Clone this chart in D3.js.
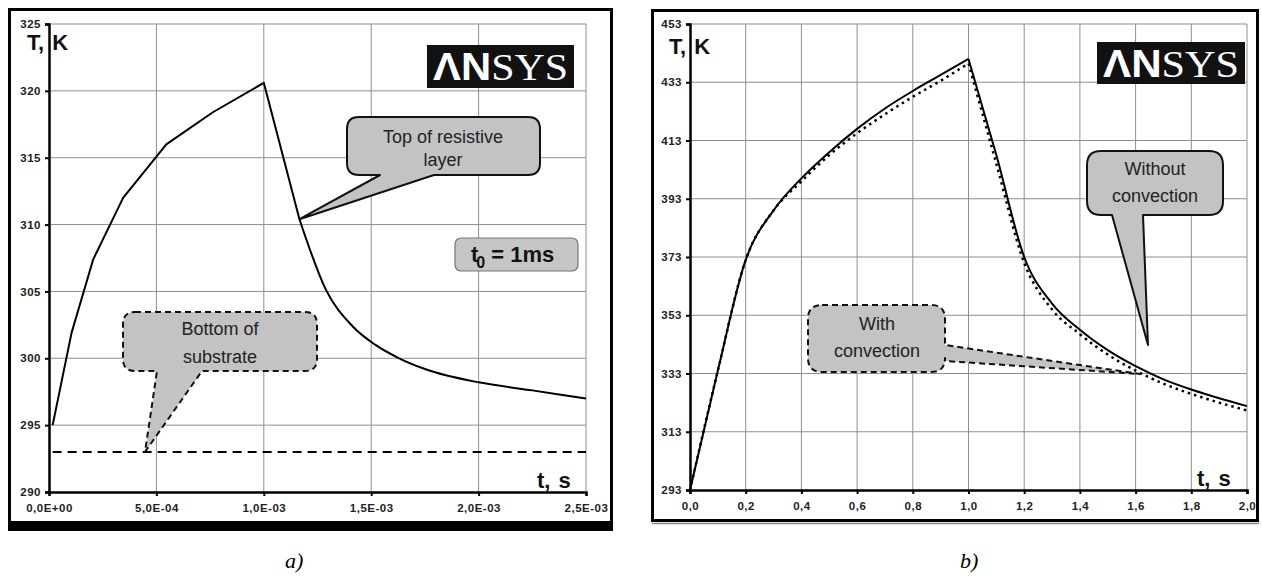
<!doctype html>
<html>
<head>
<meta charset="utf-8">
<title>Temperature transients</title>
<style>
  body { margin: 0; background: #fff; }
  svg { display: block; font-family: "Liberation Sans", Arial, sans-serif; }
  .tick text { font-size: 11.5px; font-weight: bold; fill: #222; letter-spacing: 0.5px; }
  .grid line { stroke: #8f8f8f; stroke-width: 1; }
  .callout text { font-size: 18px; fill: #222; text-anchor: middle; }
</style>
</head>
<body>
<svg id="chart" width="1262" height="576"></svg>
<script src="https://d3js.org/d3.v7.min.js"></script>
<script>
// ---- panel a) : pulse t0 = 1 ms ----
var timeA = [1.7e-5, 1.05e-4, 2.06e-4, 3.45e-4, 5.46e-4, 7.63e-4, 1.0e-3, 1.166e-3, 1.29e-3, 1.413e-3, 1.52e-3, 1.63e-3, 1.75e-3, 2.0e-3, 2.25e-3, 2.5e-3];
var topLayer = [295.0, 301.9, 307.4, 312.0, 316.0, 318.4, 320.6, 310.4, 305.1, 302.4, 301.0, 300.0, 299.2, 298.2, 297.6, 297.0];
var substrateTime = [1.7e-5, 2.5e-3];
var substrate = [293, 293];
var xTicksA = [0, 5e-4, 1e-3, 1.5e-3, 2e-3, 2.5e-3];
var xLabelsA = ["0,0E+00", "5,0E-04", "1,0E-03", "1,5E-03", "2,0E-03", "2,5E-03"];
var yTicksA = [290, 295, 300, 305, 310, 315, 320, 325];

// ---- panel b) : t0 = 1 s ----
var timeB = [0, 0.1, 0.2, 0.3, 0.4, 0.5, 0.6, 0.7, 0.8, 0.9, 1.0, 1.1, 1.2, 1.3, 1.4, 1.5, 1.6, 1.7, 1.8, 1.9, 2.0];
var noConvection = [293, 334, 372, 389, 400, 409, 417, 424, 430, 435.5, 441, 408, 373, 357, 348, 341, 335.5, 331, 327.5, 324.5, 321.8];
var withConvection = [293, 334, 372, 389, 399, 408, 415.5, 422, 428, 433.5, 439.5, 405, 371, 355, 346.5, 339.5, 334, 329.5, 326, 323, 320.3];
var xTicksB = [0, 0.2, 0.4, 0.6, 0.8, 1.0, 1.2, 1.4, 1.6, 1.8, 2.0];
var xLabelsB = ["0,0", "0,2", "0,4", "0,6", "0,8", "1,0", "1,2", "1,4", "1,6", "1,8", "2,0"];
var yTicksB = [293, 313, 333, 353, 373, 393, 413, 433, 453];

var svg = d3.select('#chart');

function calloutPath(b, r, edge, a1, a2, tip) {
  var x0 = b[0], y0 = b[1], x1 = b[2], y1 = b[3];
  var p = d3.path();
  p.moveTo(x0 + r, y0);
  p.lineTo(x1 - r, y0);
  p.quadraticCurveTo(x1, y0, x1, y0 + r);
  if (edge === 'right') { p.lineTo(x1, a1); p.lineTo(tip[0], tip[1]); p.lineTo(x1, a2); }
  p.lineTo(x1, y1 - r);
  p.quadraticCurveTo(x1, y1, x1 - r, y1);
  if (edge === 'bottom') { p.lineTo(a2, y1); p.lineTo(tip[0], tip[1]); p.lineTo(a1, y1); }
  p.lineTo(x0 + r, y1);
  p.quadraticCurveTo(x0, y1, x0, y1 - r);
  p.lineTo(x0, y0 + r);
  p.quadraticCurveTo(x0, y0, x0 + r, y0);
  p.closePath();
  return p.toString();
}

function callout(g, box, r, edge, a1, a2, tip, lines, dashed) {
  var c = g.append('g').attr('class', 'callout');
  c.append('path')
    .attr('d', calloutPath(box, r, edge, a1, a2, tip))
    .attr('fill', '#c3c3c3')
    .attr('stroke', '#111')
    .attr('stroke-width', 2)
    .attr('stroke-dasharray', dashed ? '6,4' : null)
    .attr('stroke-linejoin', 'round');
  lines.forEach(function(l) {
    c.append('text').attr('x', l[0]).attr('y', l[1]).text(l[2]);
  });
}

function logo(g, x, y, w, h, base) {
  g.append('rect').attr('x', x).attr('y', y).attr('width', w).attr('height', h).attr('fill', '#111');
  var t = g.append('text')
    .attr('x', x + 6).attr('y', base)
    .attr('fill', '#fff')
    .attr('font-size', 38)
    .attr('textLength', w - 12)
    .attr('lengthAdjust', 'spacingAndGlyphs');
  t.append('tspan').attr('font-family', '"Liberation Sans", Arial, sans-serif').attr('font-weight', 'bold').text('\u039BN');
  t.append('tspan').attr('font-family', '"Liberation Serif", "Times New Roman", serif').text('SYS');
}

function label(g, x, y, s) {
  g.append('text').attr('x', x).attr('y', y)
    .attr('font-size', 22).attr('font-weight', 'bold').attr('fill', '#111')
    .attr('word-spacing', 2).text(s);
}

function panel(o) {
  var g = svg.append('g');
  var x = o.x, y = o.y;
  var x0 = x.range()[0], x1 = x.range()[1], y0 = y.range()[0], y1 = y.range()[1];

  // grid
  var grid = g.append('g').attr('class', 'grid');
  grid.selectAll('line.v').data(o.xTicks.slice(1)).enter().append('line')
    .attr('x1', function(d) { return x(d); }).attr('x2', function(d) { return x(d); })
    .attr('y1', y1).attr('y2', y0);
  grid.selectAll('line.h').data(o.yTicks.slice(1)).enter().append('line')
    .attr('x1', x0).attr('x2', x1)
    .attr('y1', function(d) { return y(d); }).attr('y2', function(d) { return y(d); });

  // axes
  var ax = g.append('g').attr('transform', 'translate(0,' + y0 + ')')
    .call(d3.axisBottom(x).tickValues(o.xTicks).tickSize(4).tickPadding(8)
      .tickFormat(function(d, i) { return o.xLabels[i]; }));
  var ay = g.append('g').attr('transform', 'translate(' + x0 + ',0)')
    .call(d3.axisLeft(y).tickValues(o.yTicks).tickSize(4).tickPadding(4));
  [ax, ay].forEach(function(a) {
    a.select('.domain').attr('stroke', '#000').attr('stroke-width', 2.5);
    a.selectAll('.tick line').attr('stroke', '#000').attr('stroke-width', 2);
    a.selectAll('.tick text').attr('font-family', '"Liberation Sans", Arial, sans-serif');
  });
  return g;
}

// ================= panel a =================
var xA = d3.scaleLinear().domain([0, 2.5e-3]).range([49, 586]);
var yA = d3.scaleLinear().domain([290, 325]).range([492, 24]);

svg.append('rect').attr('x', 9.5).attr('y', 9.5).attr('width', 602).attr('height', 516)
  .attr('fill', 'none').attr('stroke', '#000').attr('stroke-width', 3);
svg.append('rect').attr('x', 8).attr('y', 521).attr('width', 605).attr('height', 10).attr('fill', '#000');

var gA = panel({ x: xA, y: yA, xTicks: xTicksA, xLabels: xLabelsA, yTicks: yTicksA });

var lineA = d3.line().x(function(d) { return xA(d[0]); }).y(function(d) { return yA(d[1]); });
var lineAs = d3.line().curve(d3.curveMonotoneX).x(function(d) { return xA(d[0]); }).y(function(d) { return yA(d[1]); });

gA.append('path')
  .attr('d', lineA(d3.zip(substrateTime, substrate)))
  .attr('fill', 'none').attr('stroke', '#000').attr('stroke-width', 2).attr('stroke-dasharray', '9,6');

var ptsA = d3.zip(timeA, topLayer);
gA.append('path')
  .attr('d', lineA(ptsA.slice(0, 8)))
  .attr('fill', 'none').attr('stroke', '#000').attr('stroke-width', 2).attr('stroke-linejoin', 'round');
gA.append('path')
  .attr('d', lineAs(ptsA.slice(7)))
  .attr('fill', 'none').attr('stroke', '#000').attr('stroke-width', 2);

logo(gA, 427, 45, 147, 43, 80);

callout(gA, [347, 117, 540, 175], 12, 'bottom', 380, 434, [xA(1.166e-3), yA(310.4)],
  [[443, 143, 'Top of resistive'], [443, 166, 'layer']], false);
callout(gA, [123, 312, 317, 371], 12, 'bottom', 157, 202, [xA(4.47e-4), yA(293)],
  [[220, 335, 'Bottom of'], [220, 363, 'substrate']], true);

var t0 = gA.append('g');
t0.append('rect').attr('x', 455).attr('y', 238).attr('width', 123).attr('height', 33).attr('rx', 6)
  .attr('fill', '#c6c6c6').attr('stroke', '#777').attr('stroke-width', 1.2);
var t0t = t0.append('text').attr('x', 471).attr('y', 262)
  .attr('font-size', 22).attr('font-weight', 'bold').attr('fill', '#111');
t0t.append('tspan').text('t');
t0t.append('tspan').attr('font-size', 16).attr('dx', -2).attr('dy', 6).text('0');
t0t.append('tspan').attr('dy', -6).text(' = 1ms');

label(gA, 27, 50, 'T, K');
label(gA, 537, 488, 't, s');

// ================= panel b =================
var xB = d3.scaleLinear().domain([0, 2]).range([690, 1247]);
var yB = d3.scaleLinear().domain([293, 453]).range([490, 24]);

svg.append('rect').attr('x', 652.5).attr('y', 10.5).attr('width', 605).attr('height', 510)
  .attr('fill', 'none').attr('stroke', '#000').attr('stroke-width', 3);
svg.append('line').attr('x1', 652).attr('x2', 1259).attr('y1', 523.5).attr('y2', 523.5).attr('stroke', '#888').attr('stroke-width', 1.5);

var gB = panel({ x: xB, y: yB, xTicks: xTicksB, xLabels: xLabelsB, yTicks: yTicksB });

var lineB = d3.line().curve(d3.curveMonotoneX).x(function(d) { return xB(d[0]); }).y(function(d) { return yB(d[1]); });

function split(t, v) {
  return [d3.zip(t.slice(0, 11), v.slice(0, 11)), d3.zip(t.slice(10), v.slice(10))];
}
split(timeB, withConvection).forEach(function(seg) {
  gB.append('path').attr('d', lineB(seg))
    .attr('fill', 'none').attr('stroke', '#000').attr('stroke-width', 2.5).attr('stroke-dasharray', '2.5,4');
});
split(timeB, noConvection).forEach(function(seg) {
  gB.append('path').attr('d', lineB(seg))
    .attr('fill', 'none').attr('stroke', '#000').attr('stroke-width', 2);
});

logo(gB, 1097, 42, 148, 42, 77);

callout(gB, [1087, 151, 1223, 215], 14, 'bottom', 1112, 1143, [1148, 345],
  [[1155, 175, 'Without'], [1155, 202, 'convection']], false);
callout(gB, [808, 305, 945, 372], 14, 'right', 345, 361, [1140, 374],
  [[877, 330, 'With'], [877, 357, 'convection']], true);

label(gB, 669, 54, 'T, K');
label(gB, 1197, 486, 't, s');

// captions
svg.append('text').attr('x', 285).attr('y', 568).attr('font-family', '"Liberation Serif", serif')
  .attr('font-style', 'italic').attr('font-size', 22).text('a)');
svg.append('text').attr('x', 960).attr('y', 568).attr('font-family', '"Liberation Serif", serif')
  .attr('font-style', 'italic').attr('font-size', 22).text('b)');
</script>
</body>
</html>
